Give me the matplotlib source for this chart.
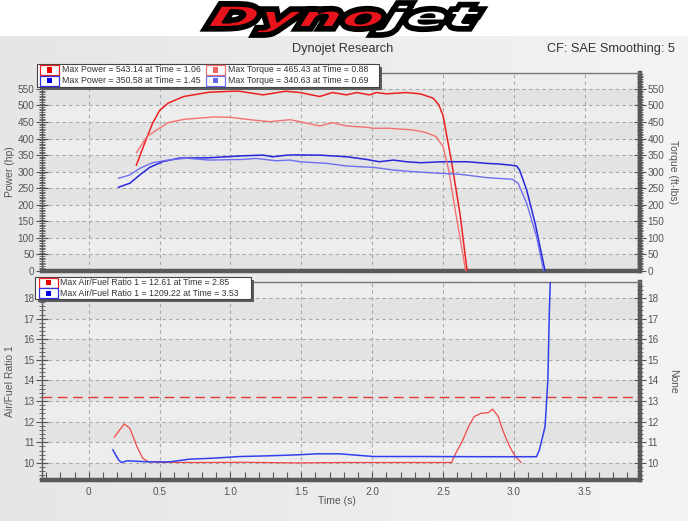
import numpy as np
import matplotlib
matplotlib.use('Agg')
import matplotlib.pyplot as plt
from matplotlib.patches import Rectangle, PathPatch
from matplotlib.textpath import TextPath
from matplotlib.font_manager import FontProperties
from matplotlib.colors import LinearSegmentedColormap
import matplotlib.patheffects as pe
from matplotlib.ticker import MultipleLocator
from matplotlib.transforms import Affine2D

plt.rcParams['font.family'] = ['Liberation Sans', 'DejaVu Sans']

# ---------------- data ----------------
t_pow1 = [0.336, 0.40, 0.45, 0.50, 0.56, 0.67, 0.85, 1.02, 1.06, 1.23, 1.39, 1.49, 1.63, 1.72, 1.82,
          1.89, 1.98, 2.03, 2.10, 2.24, 2.34, 2.43, 2.47, 2.50, 2.56, 2.62, 2.67]
pow1 = [320, 392, 446, 485, 507, 527, 540, 543, 543.14, 532, 543, 539, 527, 539, 532,
        539, 532, 539, 535, 539, 535, 522, 502, 470, 330, 172, 0]

t_tq1 = [0.336, 0.41, 0.48, 0.56, 0.67, 0.85, 0.88, 1.00, 1.18, 1.28, 1.42, 1.49, 1.63, 1.72, 1.82,
         1.96, 2.01, 2.12, 2.29, 2.38, 2.45, 2.50, 2.54, 2.59, 2.66]
tq1 = [357, 406, 426, 448, 458, 464, 465.43, 464, 455, 451, 457, 451, 438, 448, 438,
       434, 431, 431, 426, 418, 406, 376, 305, 174, 0]

t_pow2 = [0.21, 0.29, 0.36, 0.43, 0.52, 0.64, 0.85, 1.09, 1.23, 1.30, 1.40, 1.45, 1.63, 1.82, 1.96,
          2.05, 2.15, 2.24, 2.34, 2.50, 2.67, 2.81, 2.90, 2.97, 3.02, 3.04, 3.09, 3.15, 3.22]
pow2 = [253, 265, 290, 313, 330, 341, 342, 348, 350, 345, 350, 350.58, 350, 345, 337,
        330, 335, 330, 327, 330, 330, 325, 323, 320, 317, 305, 245, 144, 0]

t_tq2 = [0.21, 0.29, 0.36, 0.45, 0.56, 0.69, 0.85, 1.09, 1.18, 1.32, 1.42, 1.49, 1.68, 1.82, 2.01,
         2.15, 2.29, 2.48, 2.62, 2.81, 2.99, 3.03, 3.09, 3.16, 3.21]
tq2 = [280, 290, 310, 327, 335, 340.63, 335, 337, 340, 333, 335, 330, 325, 317, 313,
       305, 300, 295, 292, 282, 277, 265, 205, 104, 0]

t_afr1 = [0.18, 0.25, 0.29, 0.34, 0.38, 0.42, 0.50, 0.78, 1.10, 1.47, 1.80, 2.20, 2.56, 2.59, 2.64,
          2.68, 2.72, 2.77, 2.82, 2.85, 2.89, 2.92, 2.97, 3.01, 3.05]
afr1 = [11.25, 11.89, 11.68, 10.79, 10.23, 10.06, 10.03, 10.02, 10.03, 10.00, 10.02, 10.02, 10.02, 10.47, 11.12,
        11.76, 12.25, 12.41, 12.44, 12.61, 12.25, 11.60, 10.79, 10.31, 10.03]

t_afr2 = [0.17, 0.21, 0.23, 0.27, 0.43, 0.57, 0.71, 0.88, 1.07, 1.25, 1.47, 1.61, 1.77, 2.01, 2.34,
          2.80, 3.16, 3.18, 3.22, 3.24, 3.25, 3.26, 3.27]
afr2 = [10.63, 10.15, 10.02, 10.10, 10.05, 10.05, 10.18, 10.23, 10.31, 10.34, 10.39, 10.44, 10.44, 10.31, 10.31,
        10.30, 10.30, 10.63, 11.76, 14.03, 17.30, 19.5, 25.0]

afr_target = 13.2

legend_top = [("Max Power = 543.14 at Time = 1.06", "Max Torque = 465.43 at Time = 0.88"),
              ("Max Power = 350.58 at Time = 1.45", "Max Torque = 340.63 at Time = 0.69")]
legend_bot = ["Max Air/Fuel Ratio 1 = 12.61 at Time = 2.85",
              "Max Air/Fuel Ratio 1 = 1209.22 at Time = 3.53"]

# ---------------- figure ----------------
W, H = 688, 521
fig = plt.figure(figsize=(W / 100, H / 100), dpi=100)
fig.patch.set_facecolor('white')

def fx(x):
    return x / W

def fy(y):
    return 1 - y / H

# background gradient
bg = fig.add_axes([0, 0, 1, fy(36)], zorder=-10)
grad = np.linspace(0, 1, 256)[None, :]
cmap_bg = LinearSegmentedColormap.from_list('bg', ['#e6e6e6', '#ececec', '#f4f4f4'])
bg.imshow(grad, aspect='auto', cmap=cmap_bg, extent=[0, 1, 0, 1])
bg.axis('off')

# logo
fp = FontProperties(family='DejaVu Sans', weight='bold', style='italic')
p1 = TextPath((0, 0), "Dyno", prop=fp, size=1)
p2 = TextPath((p1.get_extents().x1 + 0.05, 0), "jet", prop=fp, size=1)
ext1, ext2 = p1.get_extents(), p2.get_extents()
x0, x1 = ext1.x0, ext2.x1
y0, y1 = min(ext1.y0, ext2.y0), max(ext1.y1, ext2.y1)
lx0, lx1, ly_top, ly_bot = 210, 478, 5, 33
sx = (lx1 - lx0) / (x1 - x0)
sy = (ly_bot - ly_top) / (y1 - y0)
tr = (Affine2D().translate(-x0, -y0).scale(sx, sy).skew_deg(12, 0)
      .translate(lx0 - 3, H - ly_bot).scale(1 / W, 1 / H) + fig.transFigure)
for path, fc in ((p1, '#e8141b'), (p2, 'white')):
    patch = PathPatch(path, transform=tr, facecolor=fc, edgecolor='black', lw=1.2, zorder=20)
    patch.set_path_effects([pe.Stroke(linewidth=7, foreground='black'), pe.Normal()])
    fig.add_artist(patch)

fig.text(fx(343), fy(49), "Dynojet Research", ha='center', va='center', fontsize=9.2, color='#333333')
fig.text(fx(675), fy(49), "CF: SAE Smoothing: 5", ha='right', va='center', fontsize=9.2, color='#333333')

tick_col = '#555555'
spine_col = '#5a5a5a'
TS = 7.2  # tick label size

def style_axes(ax, ylim, ymaj, ymin, bands):
    ax.set_facecolor('#ebebeb')
    ax.set_ylim(*ylim)
    ax.set_xlim(-0.33, 3.89)
    ax.yaxis.set_major_locator(MultipleLocator(ymaj))
    ax.yaxis.set_minor_locator(MultipleLocator(ymin))
    ax.xaxis.set_major_locator(MultipleLocator(0.5))
    ax.xaxis.set_minor_locator(MultipleLocator(0.1))
    for i, (a, b) in enumerate(bands):
        ax.axhspan(a, b, color='#e3e3e3' if i % 2 == 0 else '#ededed', zorder=0, lw=0)
    ax.grid(True, which='major', color='#a8a8a8', ls=(0, (3, 3)), lw=0.8, zorder=1)
    ax.set_axisbelow(True)
    ax.spines['left'].set_color(spine_col)
    ax.spines['top'].set_color('#777777')
    ax.spines['left'].set_linewidth(1.0)
    ax.spines['top'].set_linewidth(1.0)
    ax.spines['bottom'].set_color(spine_col)
    ax.spines['bottom'].set_linewidth(3.2)
    ax.spines['right'].set_color(spine_col)
    ax.spines['right'].set_linewidth(3.2)
    ax.tick_params(axis='y', which='major', direction='inout', length=8, width=0.8,
                   color=tick_col, labelcolor=tick_col, labelsize=TS, pad=1.5)
    ax.tick_params(axis='y', which='minor', direction='inout', length=4, width=0.6, color=tick_col)

def style_right(axr, ylim, ymaj, ymin):
    axr.set_ylim(*ylim)
    axr.yaxis.set_major_locator(MultipleLocator(ymaj))
    axr.yaxis.set_minor_locator(MultipleLocator(ymin))
    axr.tick_params(axis='y', which='major', direction='inout', length=8, width=0.8,
                    color=tick_col, labelcolor=tick_col, labelsize=TS, pad=1.5)
    axr.tick_params(axis='y', which='minor', direction='inout', length=4, width=0.6, color=tick_col)
    for s in axr.spines.values():
        s.set_visible(False)

AXL, AXR = 42, 640
AW = AXR - AXL

# ---------------- top panel ----------------
ax1 = fig.add_axes([fx(AXL), fy(271), fx(AW), fy(73) - fy(271)])
style_axes(ax1, (0, 598), 50, 5, [(v, v + 50) for v in range(0, 600, 50)])
ax1.tick_params(axis='x', which='both', length=0, labelbottom=False)
ax1.set_ylabel("Power (hp)", fontsize=7.5, color=tick_col, va='center')
ax1.yaxis.set_label_coords((10 - AXL) / AW, 0.5)

ax1r = ax1.twinx()
style_right(ax1r, (0, 598), 50, 5)
ax1r.set_ylabel("Torque (ft-lbs)", fontsize=7.5, color=tick_col, rotation=270, va='center')
ax1r.yaxis.set_label_coords((673 - AXL) / AW, 0.5)

ax1.plot(t_pow1, pow1, color='#ee2020', lw=1.1, zorder=5)
ax1r.plot(t_tq1, tq1, color='#f27272', lw=1.0, zorder=5)
ax1.plot(t_pow2, pow2, color='#2626dd', lw=1.1, zorder=5)
ax1r.plot(t_tq2, tq2, color='#6e6ef0', lw=1.0, zorder=5)

# ---------------- bottom panel ----------------
ax2 = fig.add_axes([fx(AXL), fy(480), fx(AW), fy(282) - fy(480)])
style_axes(ax2, (9.17, 18.78), 1, 0.2, [(9.17, 10)] + [(v, v + 1) for v in range(10, 19)])
ax2.tick_params(axis='x', which='major', direction='in', length=6, width=0.8,
                color=tick_col, labelcolor=tick_col, labelsize=TS, pad=5)
ax2.tick_params(axis='x', which='minor', direction='in', length=6, width=0.8, color=tick_col)
ax2.set_xticks(np.arange(0, 3.51, 0.5))
ax2.set_xticklabels(['0', '0.5', '1.0', '1.5', '2.0', '2.5', '3.0', '3.5'])
ax2.set_ylabel("Air/Fuel Ratio 1", fontsize=7.5, color=tick_col, va='center')
ax2.yaxis.set_label_coords((10 - AXL) / AW, 0.5)
ax2.set_xlabel("Time (s)", fontsize=7.5, color=tick_col)
ax2.xaxis.set_label_coords((337 - AXL) / AW, -(501 - 480) / 198)
ax2.xaxis.label.set_va('center')

ax2r = ax2.twinx()
style_right(ax2r, (9.17, 18.78), 1, 0.2)
ax2r.set_ylabel("None", fontsize=7.5, color=tick_col, rotation=270, va='center')
ax2r.yaxis.set_label_coords((673 - AXL) / AW, 0.5)

ax2.axhline(afr_target, color='#e03a3a', lw=1.0, ls=(0, (7, 4)), zorder=4)
ax2.plot(t_afr1, afr1, color='#f04848', lw=0.9, zorder=5)
ax2.plot(t_afr2, afr2, color='#3040ee', lw=1.1, zorder=5)

# ---------------- legends ----------------
def legend_box(xa, ya, xb, yb):
    fig.add_artist(Rectangle((fx(xa + 3), fy(yb + 3)), fx(xb - xa), fy(ya) - fy(yb),
                             facecolor='#5c5c5c', edgecolor='none', zorder=30))
    fig.add_artist(Rectangle((fx(xa), fy(yb)), fx(xb - xa), fy(ya) - fy(yb),
                             facecolor='white', edgecolor='#444444', lw=0.8, zorder=31))

def legend_marker(x, y, edge, fill):
    fig.add_artist(Rectangle((fx(x), fy(y + 5)), fx(19), fy(0) - fy(10),
                             facecolor='white', edgecolor=edge, lw=0.9, zorder=32))
    fig.add_artist(Rectangle((fx(x + 7), fy(y + 2.5)), fx(5), fy(0) - fy(5),
                             facecolor=fill, edgecolor='none', zorder=33))

LS = 6.3
legend_box(37, 64, 379, 87)
rows_y = [70, 80.7]
marker_cols = [(('#ee2020', '#ee0000'), ('#f27272', '#f46464')),
               (('#3030e0', '#0000ee'), ('#7070f0', '#6464f4'))]
for r in range(2):
    for c, (mx, tx) in enumerate(((40, 62), (206, 228))):
        edge, fill = marker_cols[r][c]
        legend_marker(mx, rows_y[r], edge, fill)
        fig.text(fx(tx), fy(rows_y[r]), legend_top[r][c], fontsize=LS, color='#333333',
                 ha='left', va='center', zorder=34)

legend_box(35, 277, 251, 299)
rows_y2 = [282.7, 293.3]
for r, (edge, fill) in enumerate((('#ee2020', '#ee0000'), ('#3030e0', '#0000ee'))):
    legend_marker(39, rows_y2[r], edge, fill)
    fig.text(fx(60), fy(rows_y2[r]), legend_bot[r], fontsize=LS, color='#333333',
             ha='left', va='center', zorder=34)

fig.savefig('out.png', dpi=100)
